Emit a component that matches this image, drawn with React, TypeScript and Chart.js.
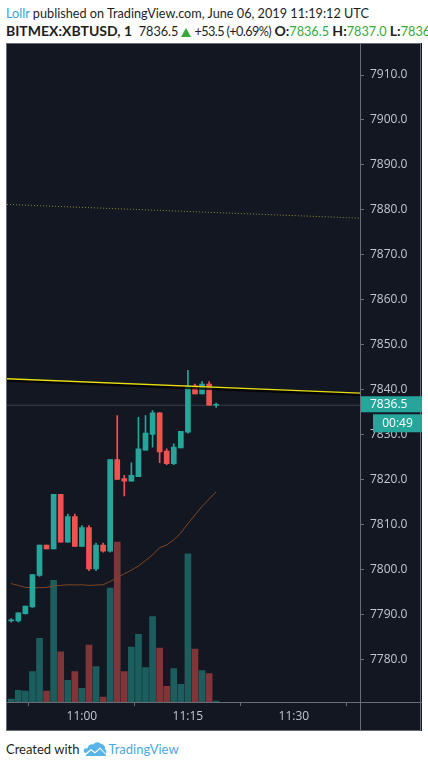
import React, { useEffect, useRef } from 'react';
import { Chart, registerables } from 'chart.js';
Chart.register(...registerables);

// minutes relative to 11:00
const minutes = [-10, -9, -8, -7, -6, -5, -4, -3, -2, -1, 0, 1, 2, 3, 4, 5, 6, 7, 8, 9, 10, 11, 12, 13, 14, 15, 16, 17, 18, 19];
const opens = [7788.5, 7788.5, 7790.1, 7791.6, 7798.6, 7805.4, 7804.5, 7816.7, 7806.0, 7811.7, 7805.1, 7809.3, 7800.1, 7805.4, 7804.0, 7824.4, 7820.2, 7819.6, 7820.6, 7826.5, 7830.0, 7834.8, 7826.3, 7823.5, 7827.0, 7830.5, 7840.8, 7839.0, 7841.2, 7836.5];
const highs = [7789.0, 7790.3, 7791.8, 7798.8, 7805.4, 7805.4, 7816.7, 7816.7, 7812.3, 7812.3, 7809.7, 7809.7, 7805.8, 7805.8, 7824.4, 7834.2, 7820.9, 7823.7, 7833.8, 7834.2, 7835.3, 7834.8, 7826.8, 7827.9, 7830.7, 7844.3, 7841.2, 7841.8, 7841.8, 7837.0];
const lows = [7788.2, 7788.3, 7790.0, 7791.5, 7798.4, 7804.5, 7804.5, 7806.0, 7806.0, 7805.1, 7805.1, 7799.7, 7799.7, 7803.8, 7803.8, 7820.0, 7816.3, 7819.6, 7820.6, 7826.5, 7827.2, 7823.7, 7823.3, 7823.3, 7827.0, 7830.3, 7839.0, 7839.0, 7836.5, 7836.0];
const closes = [7788.7, 7790.3, 7791.8, 7798.8, 7805.4, 7804.5, 7816.7, 7806.0, 7811.7, 7805.1, 7809.3, 7800.1, 7805.4, 7804.0, 7824.4, 7820.0, 7819.6, 7820.9, 7826.8, 7830.3, 7834.8, 7826.1, 7823.5, 7827.2, 7830.7, 7840.8, 7839.0, 7841.2, 7836.5, 7836.5];
const volumes = [30, 120, 110, 310, 650, 110, 1240, 510, 220, 310, 140, 580, 360, 50, 1160, 1630, 310, 560, 690, 350, 870, 550, 160, 340, 180, 1510, 540, 320, 290, 10];
const maValues = [7796.8, 7796.4, 7795.95, 7795.9, 7795.9, 7795.95, 7796.3, 7796.4, 7796.55, 7796.5, 7796.55, 7796.4, 7796.5, 7796.55, 7797.3, 7798.1, 7799.0, 7799.8, 7800.75, 7801.95, 7803.2, 7804.8, 7805.4, 7806.55, 7808.1, 7810.15, 7812.1, 7814.0, 7815.6, 7817.25];

const yTickValues = [7780, 7790, 7800, 7810, 7820, 7830, 7840, 7850, 7860, 7870, 7880, 7890, 7900, 7910];
const xTickMinutes = [0, 15, 30];
const xTickLabels = ['11:00', '11:15', '11:30'];

const trendX = [-10.6, 39.35];
const trendY = [7842.4, 7839.2];
const dottedY = [7881.2, 7878.15];
const lastPrice = 7836.5;
const countdown = '00:49';

const X_MIN = -10.6;
const X_MAX = 39.35;
const Y_MIN = 7770.45;
const Y_MAX = 7914.2;
const VOL_MAX = 6580;

const UP = '#26a69a';
const DOWN = '#ef5350';
const UP_VOL = 'rgba(38,166,154,0.5)';
const DOWN_VOL = 'rgba(239,83,80,0.5)';
const BG = '#131722';
const FRAME = '#6a6d78';
const TEXT = '#c3c6ce';
const FONT = 'Open Sans';
const PAGE_FONT = 'Lato';

export default function App() {
  const ref = useRef<HTMLCanvasElement>(null);

  useEffect(() => {
    const canvas = ref.current!;
    const isUp = opens.map((o, i) => closes[i] >= o);
    const candleColors = isUp.map((u) => (u ? UP : DOWN));
    const volColors = isUp.map((u) => (u ? UP_VOL : DOWN_VOL));

    const bgPlugin = {
      id: 'bg',
      beforeDraw(chart: any) {
        const c = chart.ctx;
        c.save();
        c.fillStyle = BG;
        c.fillRect(0, 0, chart.width, chart.height);
        c.restore();
      },
    };

    const framePlugin = {
      id: 'frame',
      afterDraw(chart: any) {
        const c = chart.ctx;
        const a = chart.chartArea;
        const W = chart.width;
        const H = chart.height;
        c.save();
        c.strokeStyle = FRAME;
        c.lineWidth = 1;
        c.beginPath();
        c.moveTo(Math.round(a.right) + 0.5, 0);
        c.lineTo(Math.round(a.right) + 0.5, H);
        c.moveTo(0, Math.round(a.bottom) + 0.5);
        c.lineTo(W, Math.round(a.bottom) + 0.5);
        c.stroke();
        c.strokeRect(0.5, 0.5, W - 2, H - 1);

        // last price label
        const y = chart.scales.y.getPixelForValue(lastPrice);
        const left = a.right + 1;
        c.fillStyle = UP;
        c.fillRect(left, y - 9, W - left, 16);
        c.fillStyle = '#ffffff';
        c.font = `12px "${FONT}"`;
        c.textBaseline = 'middle';
        c.textAlign = 'left';
        c.fillText(lastPrice.toFixed(1), a.right + 10, y - 1);
        // countdown
        c.fillStyle = UP;
        c.fillRect(a.right + 13, y + 9, W - (a.right + 13), 18);
        c.fillStyle = '#ffffff';
        c.textAlign = 'center';
        c.fillText(countdown, (a.right + 13 + W) / 2, y + 18);
        c.restore();
      },
    };

    const chart = new Chart(canvas, {
      type: 'bar',
      data: {
        datasets: [
          {
            type: 'line',
            data: trendX.map((x, i) => ({ x, y: trendY[i] })),
            borderColor: '#e6de10',
            borderWidth: 1.4,
            pointRadius: 0,
            yAxisID: 'y',
            order: 0,
          } as any,
          {
            type: 'line',
            data: trendX.map((x, i) => ({ x, y: trendY[i] - 0.35 })),
            borderColor: 'rgba(0,0,0,0.75)',
            borderWidth: 3,
            pointRadius: 0,
            yAxisID: 'y',
            order: 1,
          } as any,
          {
            type: 'bar',
            data: minutes.map((m, i) => ({ x: m, y: [opens[i], closes[i]] })),
            backgroundColor: candleColors,
            barThickness: 5,
            minBarLength: 1,
            grouped: false,
            borderWidth: 0,
            yAxisID: 'y',
            order: 2,
          } as any,
          {
            type: 'bar',
            data: minutes.map((m, i) => ({ x: m, y: [lows[i], highs[i]] })),
            backgroundColor: candleColors,
            barThickness: 1,
            minBarLength: 1,
            grouped: false,
            borderWidth: 0,
            yAxisID: 'y',
            order: 3,
          } as any,
          {
            type: 'line',
            data: trendX.map((x) => ({ x, y: lastPrice })),
            borderColor: 'rgba(120,126,140,0.4)',
            borderWidth: 1,
            pointRadius: 0,
            yAxisID: 'y',
            order: 4,
          } as any,
          {
            type: 'line',
            data: trendX.map((x, i) => ({ x, y: dottedY[i] })),
            borderColor: 'rgba(190,190,60,0.7)',
            borderWidth: 1,
            borderDash: [1, 2],
            pointRadius: 0,
            yAxisID: 'y',
            order: 5,
          } as any,
          {
            type: 'line',
            data: minutes.map((m, i) => ({ x: m, y: maValues[i] })),
            borderColor: '#7f4523',
            borderWidth: 1,
            pointRadius: 0,
            tension: 0,
            yAxisID: 'y',
            order: 6,
          } as any,
          {
            type: 'bar',
            data: minutes.map((m, i) => ({ x: m, y: volumes[i] })),
            backgroundColor: volColors,
            barThickness: 6,
            grouped: false,
            borderWidth: 0,
            yAxisID: 'yv',
            order: 7,
          } as any,
        ],
      },
      options: {
        animation: false,
        responsive: false,
        devicePixelRatio: 1,
        layout: { padding: { left: 1, top: 1, right: 0, bottom: 0 } },
        plugins: { legend: { display: false }, tooltip: { enabled: false } },
        scales: {
          x: {
            type: 'linear',
            min: X_MIN,
            max: X_MAX,
            offset: false,
            afterBuildTicks: (s: any) => {
              s.ticks = xTickMinutes.map((v) => ({ value: v }));
            },
            afterFit: (s: any) => {
              s.height = 29;
            },
            grid: { drawOnChartArea: false, drawTicks: true, tickLength: 4, color: FRAME },
            border: { display: false },
            ticks: {
              padding: 3,
              color: TEXT,
              font: { family: FONT, size: 12 },
              maxRotation: 0,
              autoSkip: false,
              callback: (_v: any, i: number) => xTickLabels[i],
            },
          },
          y: {
            type: 'linear',
            position: 'right',
            min: Y_MIN,
            max: Y_MAX,
            afterBuildTicks: (s: any) => {
              s.ticks = yTickValues.map((v) => ({ value: v }));
            },
            afterFit: (s: any) => {
              s.width = 62;
            },
            grid: { drawOnChartArea: false, drawTicks: true, tickLength: 4, color: FRAME },
            border: { display: false },
            ticks: {
              padding: 6,
              color: TEXT,
              font: { family: FONT, size: 12 },
              autoSkip: false,
              callback: (v: any) => Number(v).toFixed(1),
            },
          },
          yv: {
            type: 'linear',
            position: 'left',
            display: false,
            min: 0,
            max: VOL_MAX,
          },
        },
      } as any,
      plugins: [bgPlugin, framePlugin],
    });
    return () => chart.destroy();
  }, []);

  const green = '#35a93a';
  const dark = '#1e1e1e';
  const bold = { fontWeight: 700, fontSize: 14 } as const;
  const tri = (
    <span
      style={{
        display: 'inline-block',
        width: 0,
        height: 0,
        borderLeft: '5px solid transparent',
        borderRight: '5px solid transparent',
        borderBottom: `9px solid ${green}`,
        margin: '0 3px 0 3px',
        verticalAlign: '-1px',
      }}
    />
  );
  return (
    <div style={{ position: 'absolute', left: 0, top: 0, width: 428, height: 767, background: '#fff', overflow: 'hidden', fontFamily: PAGE_FONT }}>
      <div style={{ position: 'absolute', left: 6, top: 4, fontSize: 12.7, lineHeight: '18px', color: dark, whiteSpace: 'nowrap' }}>
        <span style={{ color: '#3ba3df' }}>Lollr</span> published on TradingView.com, June 06, 2019 11:19:12 UTC
      </div>
      <div style={{ position: 'absolute', left: 6, top: 22, width: 422, overflow: 'hidden', fontSize: 12.7, lineHeight: '18px', color: dark, whiteSpace: 'nowrap' }}>
        <span style={bold}>BITMEX:XBTUSD, 1</span>&nbsp; 7836.5{tri}
        <span style={{ letterSpacing: '-0.6px' }}>+53.5 (+0.69%)</span> <span style={bold}>O:</span>
        <span style={{ color: green }}>7836.5</span> <span style={bold}>H:</span>
        <span style={{ color: green }}>7837.0</span> <span style={bold}>L:</span>
        <span style={{ color: green }}>7836.0</span>
      </div>
      <canvas ref={ref} width={416} height={688} style={{ position: 'absolute', left: 6, top: 43, width: 416, height: 688 }} />
      <div style={{ position: 'absolute', left: 6, top: 739, fontSize: 13, lineHeight: '20px', color: dark, whiteSpace: 'nowrap', display: 'flex', alignItems: 'center' }}>
        <span>Created with</span>
        <svg width="24" height="16" viewBox="0 0 24 16" style={{ marginLeft: 4, marginRight: 1 }}>
          <path d="M3 12 C1 12 0 10 1 8.5 C2 7 3.5 7 4.5 7.5 C5 4 8 2.5 10.5 3.5 C12 1 16 0.5 18 3 C20 3 22.5 5 22 8 C23.5 9 24 11 22.5 12.5 L17 6.5 L12 11 L8 8 Z" fill="#5ab4e6" />
          <path d="M2 15 L8 9.5 L12 12.5 L17 8 L23 14 L23 15 Z" fill="#5ab4e6" />
        </svg>
        <span style={{ color: '#4aa8e0' }}>TradingView</span>
      </div>
    </div>
  );
}
